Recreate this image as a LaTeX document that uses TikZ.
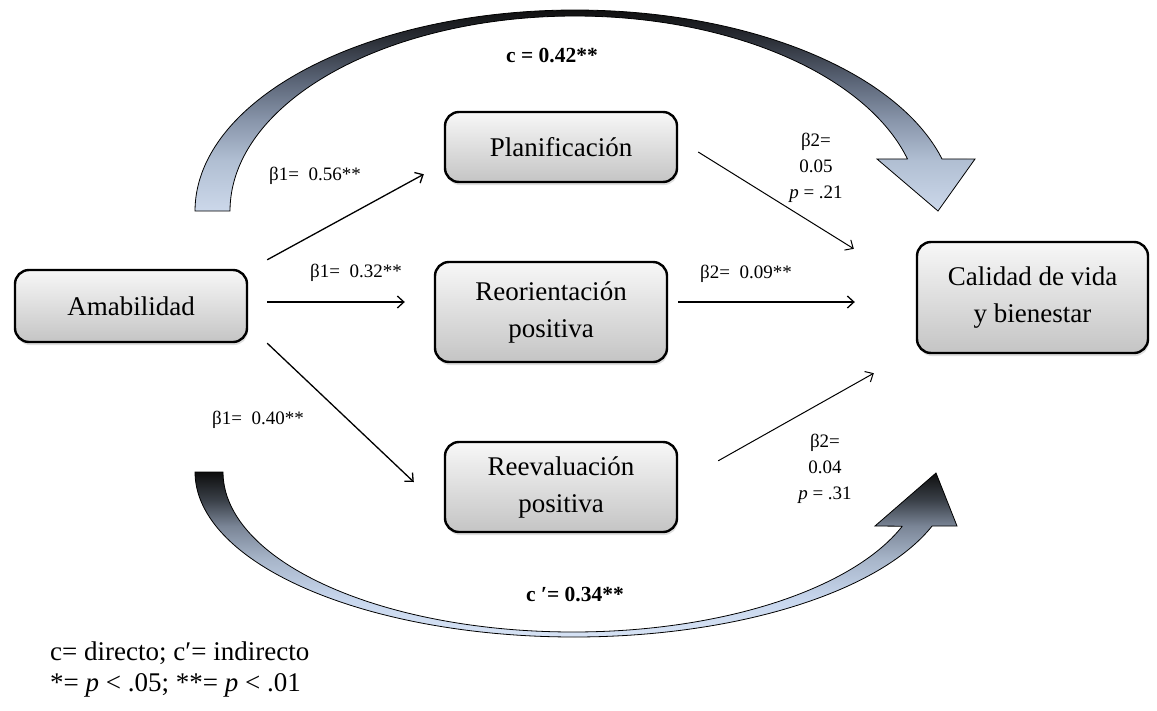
\documentclass[tikz,border=0pt]{standalone}
\usepackage{fontspec}
\setmainfont{Liberation Serif}
\usetikzlibrary{arrows.meta,shadows}
\definecolor{taA}{HTML}{CCD8EA}
\definecolor{taB}{HTML}{B0BED2}
\definecolor{taC}{HTML}{8895AA}
\definecolor{taD}{HTML}{5A6476}
\definecolor{taE}{HTML}{2C3038}
\definecolor{taF}{HTML}{101010}
\definecolor{baA}{HTML}{D6E2F4}
\definecolor{baB}{HTML}{C8D7EE}
\definecolor{baC}{HTML}{A8B6CA}
\definecolor{baD}{HTML}{7A8596}
\definecolor{baE}{HTML}{3A4048}
\definecolor{baF}{HTML}{0D0D0D}
\pgfdeclareverticalshading{toparcsh}{100bp}{color(0bp)=(taA); color(25bp)=(taA); color(37.7bp)=(taB); color(47.6bp)=(taC); color(57.6bp)=(taD); color(67.5bp)=(taE); color(75bp)=(taF); color(100bp)=(taF)}
\pgfdeclareverticalshading{botarcsh}{100bp}{color(0bp)=(baA); color(25bp)=(baA); color(36.2bp)=(baB); color(48.3bp)=(baC); color(58.6bp)=(baD); color(66.5bp)=(baE); color(75bp)=(baF); color(100bp)=(baF)}
\begin{document}
\begin{tikzpicture}[x=1pt,y=-1pt,
  box/.style={draw=black, line width=2.4pt, rounded corners=14pt,
    top color=white!97!black, bottom color=white!77!black,
    align=center, inner sep=0pt, font=\fontsize{27}{37}\selectfont,
    drop shadow={shadow xshift=1pt, shadow yshift=-3pt, opacity=0.25}},
  lab/.style={font=\fontsize{19}{26}\selectfont, align=center, inner sep=0pt},
  blab/.style={font=\bfseries\fontsize{21.5}{26}\selectfont, inner sep=0pt},
  leg/.style={font=\fontsize{27}{31}\selectfont, inner sep=0pt, anchor=base west},
  conn/.style={-{Straight Barb[length=6.5pt,width=12pt]}, line width=1.3pt},
  connthin/.style={-{Straight Barb[length=6.5pt,width=12pt]}, line width=1pt},
  arcshape/.style={line width=0.8pt, draw=black}]
\useasboundingbox (0,0) rectangle (1157,710);

% top curved arrow (direct effect c)
\shadedraw[shading=toparcsh, arcshape]
  plot[domain=180:345, samples=90, smooth] ({575+380*cos(\x)},{211+201*sin(\x)})
  -- (975,159) -- (938,211) -- (877,159) -- (907.4,158.9)
  -- plot[domain=344.5:180, samples=90, smooth] ({575+345*cos(\x)},{211+195*sin(\x)})
  -- cycle;

% bottom curved arrow (indirect effect c')
\shadedraw[shading=botarcsh, arcshape]
  plot[domain=180:19.1, samples=90, smooth] ({574+379*cos(\x)},{472+165*sin(\x)})
  -- (957,526) -- (936,473) -- (875,526) -- (902.4,526.2)
  -- plot[domain=19.8:180, samples=90, smooth] ({573+350*cos(\x)},{472+160*sin(\x)})
  -- cycle;

% boxes
\node[box, minimum width=232pt, minimum height=72pt] (amab) at (131,306) {Amabilidad};
\node[box, minimum width=232pt, minimum height=70pt] (plan) at (561,147) {Planificación};
\node[box, minimum width=232pt, minimum height=100pt] (reor) at (551,312) {Reorientación\\positiva};
\node[box, minimum width=232pt, minimum height=90pt] (reev) at (561,487) {Reevaluación\\positiva};
\node[box, minimum width=231pt, minimum height=111pt] (cal) at (1032.5,297.5) {Calidad de vida\\y bienestar};

% connectors
\draw[conn] ([shift={(19,-9)}]amab.north east) -- ([shift={(-20,-9)}]plan.south west);
\draw[conn] ([shift={(19,-4)}]amab.east) -- ([shift={(-29,-10)}]reor.west);
\draw[conn] ([shift={(19,0)}]amab.south east) -- ([shift={(-30,-5)}]reev.west);
\draw[connthin] ([shift={(20,5)}]plan.east) -- ([shift={(-62,8)}]cal.north west);
\draw[conn] ([shift={(10,-10)}]reor.east) -- ([shift={(-61,4.5)}]cal.west);
\draw[connthin] ([shift={(40,20)}]reev.north east) -- ([shift={(-42,19)}]cal.south west);

% labels
\node[lab] (l1) at (315,176) {β1=~~0.56**};
\node[lab] (l2) at (356,273) {β1=~~0.32**};
\node[lab] (l3) at (258,420) {β1=~~0.40**};
\node[lab] (l4) at (816,168) {β2=\\0.05\\\textit{p} = .21};
\node[lab] (l5) at (746,274) {β2=~~0.09**};
\node[lab] (l6) at (825,469) {β2=\\0.04\\\textit{p} = .31};
\node[blab] (lc) at (552,55) {c = 0.42**};
\node[blab] (lcp) at (575,594) {c ′= 0.34**};

% legend
\node[leg] (leg1) at (50,660) {c= directo; c′= indirecto};
\node[leg] (leg2) at (50,691) {*= \textit{p} < .05; **= \textit{p} < .01};
\end{tikzpicture}
\end{document}
